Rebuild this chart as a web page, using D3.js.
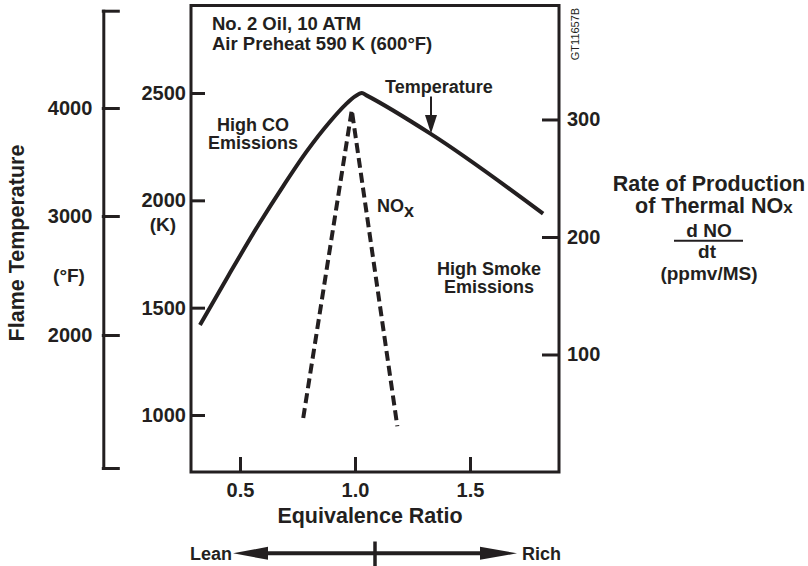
<!DOCTYPE html>
<html>
<head>
<meta charset="utf-8">
<script src="https://cdn.jsdelivr.net/npm/d3@7"></script>
<style>
  body { margin: 0; background: #fff; }
  svg { display: block; font-family: "Liberation Sans", Arial, sans-serif; }
  .axis text { font-size: 20px; font-weight: bold; fill: #231f20; }
  .axis line, .axis path { stroke: #231f20; stroke-width: 3; }
  .lbl { font-weight: bold; fill: #231f20; }
</style>
</head>
<body>
<div id="chart"></div>
<script>
var width = 808, height = 566;
var ink = "#231f20";

// flame temperature (K) against equivalence ratio
var tempPhi = [0.326, 0.45, 0.58, 0.69, 0.79, 0.89, 0.96, 1.0, 1.03, 1.05, 1.326, 1.818];
var tempK   = [1419, 1650, 1885, 2070, 2228, 2365, 2447, 2484, 2500, 2489, 2312, 1938];

// rate of production of thermal NOx (ppmv/ms)
var noxPhi  = [0.775, 0.986, 1.184];
var noxRate = [46, 308, 39];

// axis ticks
var phiTicks  = [0.5, 1.0, 1.5];
var kTicks    = [1000, 1500, 2000, 2500];
var rateTicks = [100, 200, 300];
var fTicks    = [2000, 3000, 4000];
var fEnds     = [880, 4900];

var plot = {left: 191, right: 559, top: 5.5, bottom: 472};

var x = d3.scaleLinear()
    .domain([0.287, 1.887])
    .range([plot.left, plot.right]);

var yK = d3.scaleLinear()
    .domain([734.5, 2907.6])
    .range([plot.bottom, plot.top]);

var yRate = d3.scaleLinear()
    .domain([0, 397])
    .range([plot.bottom, plot.top]);

// the degF bar in the figure is not evenly spaced, so follow its ticks
var yF = d3.scaleLinear()
    .domain([fEnds[0], 2000, 3000, 4000, fEnds[1]])
    .range([468, 335, 216, 108, 10.7]);

var svg = d3.select("#chart").append("svg")
    .attr("width", width)
    .attr("height", height);

svg.append("rect")
    .attr("width", width).attr("height", height)
    .attr("fill", "#fff");

// x axis
svg.append("g")
    .attr("class", "axis")
    .attr("transform", "translate(0," + plot.bottom + ")")
    .call(d3.axisBottom(x).tickValues(phiTicks).tickFormat(d3.format(".1f"))
      .tickSize(-15).tickPadding(11))
    .call(function(g) { g.select(".domain").remove(); });

// K axis
svg.append("g")
    .attr("class", "axis")
    .attr("transform", "translate(" + plot.left + ",0)")
    .call(d3.axisLeft(yK).tickValues(kTicks).tickFormat(d3.format("d"))
      .tickSize(-14).tickPadding(5))
    .call(function(g) { g.select(".domain").remove(); });

// NOx rate axis
svg.append("g")
    .attr("class", "axis")
    .attr("transform", "translate(" + plot.right + ",0)")
    .call(d3.axisRight(yRate).tickValues(rateTicks).tickFormat(d3.format("d"))
      .tickSize(-17).tickPadding(8))
    .call(function(g) { g.select(".domain").remove(); });

// degF axis
svg.append("g")
    .attr("class", "axis")
    .attr("transform", "translate(103.3,0)")
    .call(d3.axisLeft(yF).tickValues([fEnds[0]].concat(fTicks, [fEnds[1]]))
      .tickFormat(function(d) { return fTicks.indexOf(d) > -1 ? d : ""; })
      .tickSize(-15).tickSizeOuter(0).tickPadding(11))
    .call(function(g) { g.selectAll("line, path").attr("stroke-linecap", "square"); });

// frame
svg.append("rect")
    .attr("x", plot.left).attr("y", plot.top)
    .attr("width", plot.right - plot.left)
    .attr("height", plot.bottom - plot.top)
    .attr("fill", "none")
    .attr("stroke", ink)
    .attr("stroke-width", 3);

// curves
var tempLine = d3.line()
    .x(function(d) { return x(d[0]); })
    .y(function(d) { return yK(d[1]); })
    .curve(d3.curveMonotoneX);

svg.append("path")
    .datum(d3.zip(tempPhi, tempK))
    .attr("d", tempLine)
    .attr("fill", "none")
    .attr("stroke", ink)
    .attr("stroke-width", 4)
    .attr("stroke-linejoin", "round");

var noxLine = d3.line()
    .x(function(d) { return x(d[0]); })
    .y(function(d) { return yRate(d[1]); });

svg.append("path")
    .datum(d3.zip(noxPhi, noxRate))
    .attr("d", noxLine)
    .attr("fill", "none")
    .attr("stroke", ink)
    .attr("stroke-width", 4)
    .attr("stroke-dasharray", "10,5");

// text helper
function label(txt, px, py, size, anchor) {
  return svg.append("text")
    .attr("class", "lbl")
    .attr("x", px).attr("y", py)
    .attr("font-size", size)
    .attr("text-anchor", anchor || "start")
    .text(txt);
}

label("No. 2 Oil, 10 ATM", 212, 30, 18.5);
label("Air Preheat 590 K (600°F)", 212, 50, 18.5);
label("High CO", 253, 130.5, 18, "middle");
label("Emissions", 253, 149, 18, "middle");
label("Temperature", 385, 93, 18);
label("High Smoke", 489, 274.5, 18, "middle");
label("Emissions", 489, 293, 18, "middle");

var nox = label("NO", 377, 212, 18);
nox.append("tspan").attr("dy", 5).text("x");

// temperature pointer
svg.append("line")
    .attr("x1", 431).attr("x2", 431)
    .attr("y1", 96.5).attr("y2", 118)
    .attr("stroke", ink).attr("stroke-width", 2);
svg.append("path")
    .attr("d", "M425,115L437,115L431,133.5Z")
    .attr("fill", ink);

label("(K)", 163, 231, 19, "middle");
label("(°F)", 69, 282, 19, "middle");

label("Flame Temperature", 0, 0, 21.5, "middle")
    .attr("transform", "translate(23.5,243) rotate(-90)");

label("Equivalence Ratio", 370, 523, 21.5, "middle");

// right-hand title
label("Rate of Production", 709, 190.5, 21.5, "middle");
var thermal = label("of Thermal NO", 635, 213, 21.5, "start");
thermal.append("tspan").attr("font-size", 17).text("x");
label("d NO", 709, 236.5, 19, "middle");
svg.append("line")
    .attr("x1", 674).attr("x2", 743)
    .attr("y1", 240.8).attr("y2", 240.8)
    .attr("stroke", ink).attr("stroke-width", 2);
label("dt", 707, 258, 19, "middle");
label("(ppmv/MS)", 709, 280, 19, "middle");

svg.append("text")
    .attr("transform", "translate(579,34) rotate(-90)")
    .attr("text-anchor", "middle")
    .attr("font-size", 11)
    .attr("fill", ink)
    .text("GT11657B");

// lean / rich arrow
var arrowY = 553.3;
svg.append("line")
    .attr("x1", 250).attr("x2", 500)
    .attr("y1", arrowY).attr("y2", arrowY)
    .attr("stroke", ink).attr("stroke-width", 4);
svg.append("path")
    .attr("d", "M233," + arrowY + "L268," + (arrowY - 6.5) + "L268," + (arrowY + 6.5) + "Z")
    .attr("fill", ink);
svg.append("path")
    .attr("d", "M517," + arrowY + "L480," + (arrowY - 6.5) + "L480," + (arrowY + 6.5) + "Z")
    .attr("fill", ink);
svg.append("line")
    .attr("x1", 375).attr("x2", 375)
    .attr("y1", 541.5).attr("y2", 566)
    .attr("stroke", ink).attr("stroke-width", 3.5);
label("Lean", 232, 559.5, 18, "end");
label("Rich", 522, 559.5, 18, "start");
</script>
</body>
</html>
